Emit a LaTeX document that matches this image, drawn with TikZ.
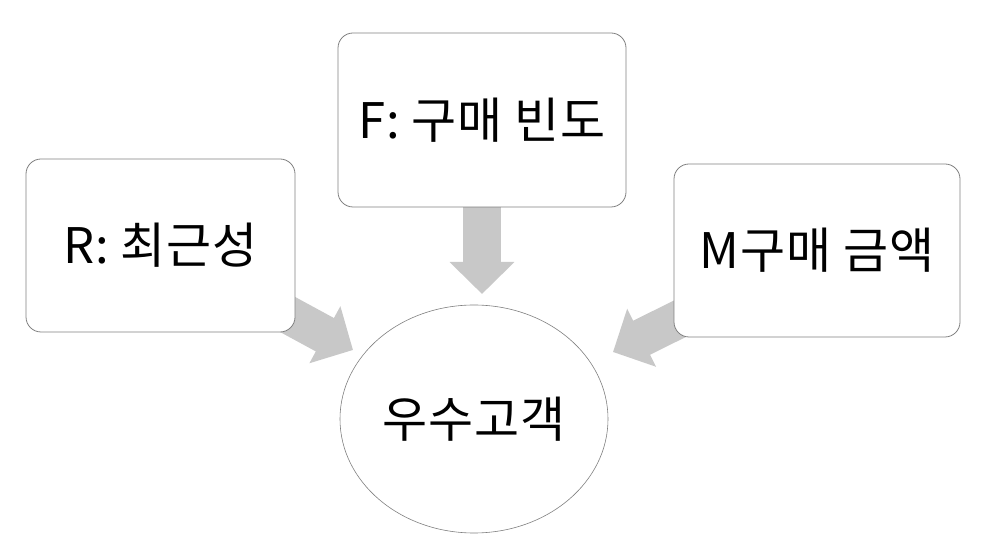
\documentclass[tikz,border=0pt]{standalone}
\usepackage{fontspec}
\newfontfamily\krfont[LetterSpace=2]{Noto Sans CJK KR}
\usetikzlibrary{arrows.meta,backgrounds,shapes.geometric}
\definecolor{arrowgray}{RGB}{200,200,200}
\definecolor{linegray}{RGB}{128,128,128}
\tikzset{
  box/.style={draw=linegray, line width=0.8pt, fill=white, rounded corners=15pt,
    inner sep=0pt, font=\krfont\fontsize{49}{58}\selectfont},
  blockarrow/.style={draw=arrowgray, line width=38pt,
    -{Triangle[width=63pt,length=32pt]}, arrowgray},
}
\begin{document}
\begin{tikzpicture}[x=1pt,y=1pt]
\useasboundingbox (0,0) rectangle (988,540);
\node[box, minimum width=269pt, minimum height=173pt] (R) at (160.5,294.5) {R: 최근성};
\node[box, minimum width=288pt, minimum height=174pt] (F) at (482,420) {F: 구매 빈도};
\node[box, minimum width=286pt, minimum height=173pt] (M) at (817,289.5) {M구매 금액};
\node[ellipse, draw=linegray, line width=0.6pt, fill=white, minimum width=268pt, minimum height=228pt,
  inner sep=0pt, font=\krfont\fontsize{49}{58}\selectfont] (E) at (474,121) {우수고객};
\coordinate (tR) at (353,190);
\coordinate (tF) at (482,246);
\coordinate (tM) at (613,188);
\begin{scope}[on background layer]
\draw[blockarrow] (R.center) -- (tR);
\draw[blockarrow] (F.center) -- (tF);
\draw[blockarrow] (M.center) -- (tM);
\end{scope}
\end{tikzpicture}
\end{document}
